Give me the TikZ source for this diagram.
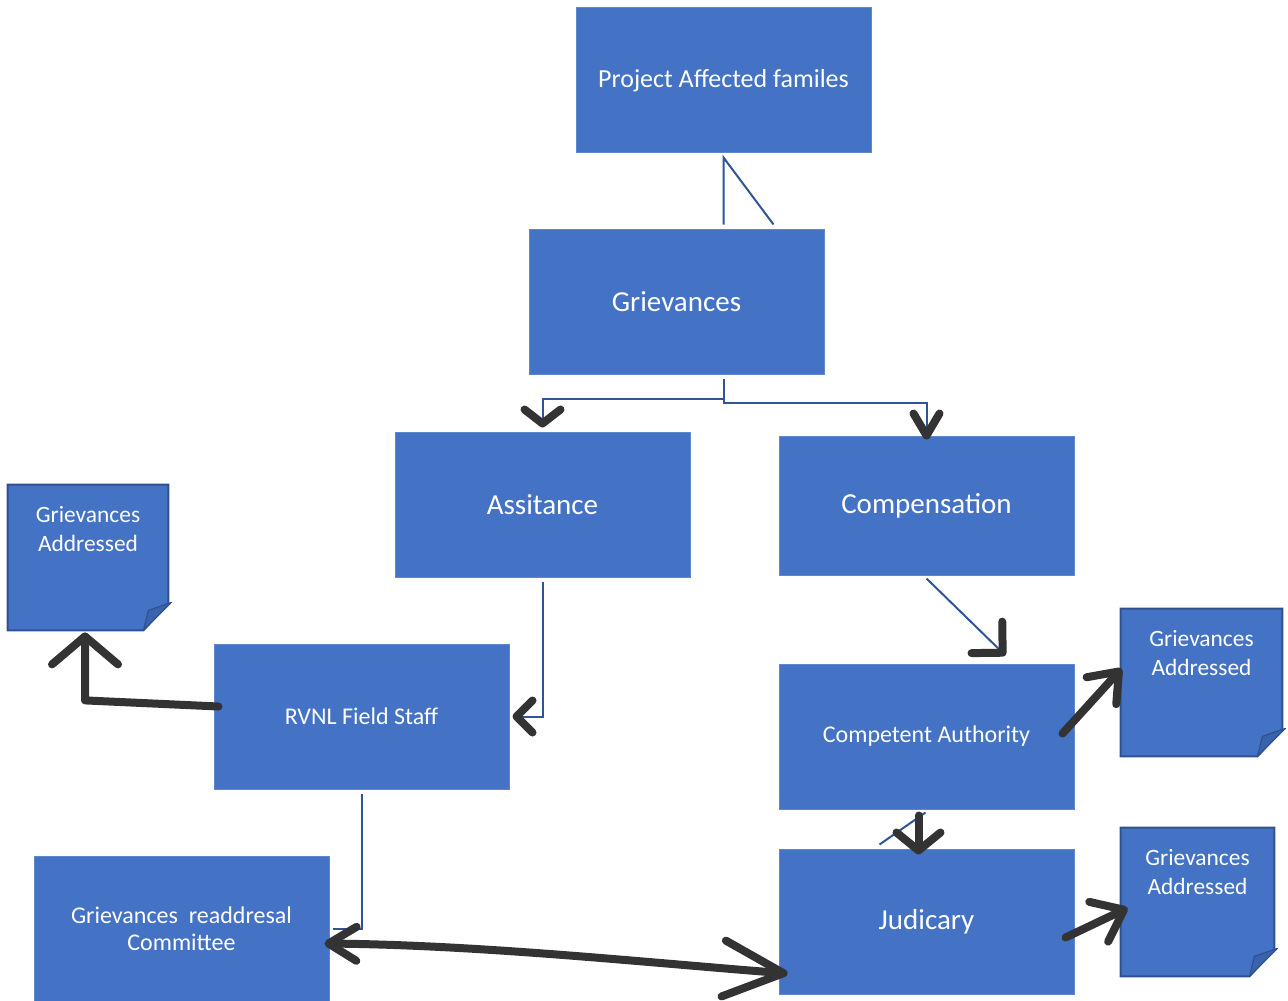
\documentclass[tikz,border=0pt]{standalone}
\usepackage{fontspec}
\setmainfont{Carlito}
\usetikzlibrary{arrows.meta,calc}
\definecolor{boxblue}{HTML}{4472C4}
\definecolor{noteline}{HTML}{2F528F}
\definecolor{flapblue}{HTML}{3A63AE}
\definecolor{linkblue}{HTML}{2F5597}
\definecolor{ink}{HTML}{333333}

\begin{document}
\begin{tikzpicture}[x=0.5pt, y=-0.5pt,
  box/.style={rectangle, fill=boxblue, draw=boxblue!85!white, line width=0.5pt, minimum width=147.5pt, minimum height=72.5pt, inner sep=0pt, text=white, align=center},
  big/.style={font=\fontsize{14.5}{17}\selectfont},
  mid/.style={font=\fontsize{13}{16}\selectfont},
  small/.style={font=\fontsize{12}{13.5}\selectfont},
  note/.style={rectangle, inner sep=0pt},
  notetext/.style={text=white, align=center, font=\fontsize{11.7}{14.5}\selectfont, inner sep=0pt, anchor=north, yshift=-10.5pt},
  link/.style={draw=linkblue, line width=1pt},
  hand/.style={draw=ink, line width=4pt, line cap=round, line join=round},
  tipbarb/.style={-{Straight Barb[color=ink, line width'=4pt, round, #1]}},
]
\useasboundingbox (0,0) rectangle (1288,1000);

% boxes
\node[box, mid] (paf) at (723.5,80.5) {Project Affected familes};
\node[box, big] (griev) at (676.5,301.5) {Grievances};
\node[box, big] (assist) at (542.5,504.5) {Assitance};
\node[box, big, minimum height=69.5pt] (comp) at (926.5,505.5) {Compensation};
\node[box, small] (rvnl) at (361.5,716.5) {RVNL Field Staff};
\node[box, small] (ca) at (926.5,736.5) {Competent Authority};
\node[box, small] (grc) at (181.5,928.5) {Grievances\ \ readdresal\\Committee};
\node[box, big] (jud) at (926.5,921.5) {Judicary};

% notes with folded corner
\node[note, minimum width=80pt, minimum height=72.5pt] (gaL) at (88,557.5) {};
\node[note, minimum width=80.5pt, minimum height=73.5pt] (gaR1) at (1201.5,682.5) {};
\node[note, minimum width=76.5pt, minimum height=74pt] (gaR2) at (1197.5,902) {};
\foreach \n in {gaL,gaR1,gaR2} {
  \filldraw[fill=boxblue, draw=noteline, line width=1pt] (\n.north west) -- (\n.north east) -- ($(\n.south east)+(0,-27)$) -- ($(\n.south east)+(-25,0)$) -- (\n.south west) -- cycle;
  \filldraw[fill=flapblue, draw=noteline, line width=0.6pt, line join=round] ($(\n.south east)+(3,-28)$) -- ($(\n.south east)+(-20,-20)$) -- ($(\n.south east)+(-25,0)$) -- cycle;
  \node[notetext] at (\n.north) {Grievances\\Addressed};
}

% blue connectors
\draw[link] ($(paf.south |- griev.north)+(0,-4)$) -- ($(paf.south)+(0,4)$) -- ($(paf.south |- griev.north)+(50,-4)$);
\draw[link, tipbarb={length=7pt, width=18pt}] ($(paf.south |- griev.south)+(0,4)$) -- ++(0,20) -| ($(assist.north)+(0,-4)$);
\draw[link, tipbarb={length=11pt, width=13pt}] ($(paf.south |- griev.south)+(0,4)$) -- ++(0,24) -| ($(comp.north)+(0,4)$);
\draw[link, tipbarb={length=8pt, width=16pt}] ($(assist.south)+(0,4)$) |- ($(rvnl.east)+(3,0)$);
\draw[link, tipbarb={length=11pt, width=22pt}] ($(comp.south)+(0,3)$) -- ($(ca.north)+(79,-8)$);
\draw[link] ($(ca.south)+(-1,3)$) -- ($(jud.north)+(-47,-4)$);
\draw[link] ($(rvnl.south)+(0,4)$) |- ($(grc.east)+(3,0)$);

% hand drawn arrows
\draw[hand, -{Straight Barb[round, length=14pt, width=33pt]}] ($(rvnl.west)+(5,-10)$) -- ($(gaL.south)+(-3,70)$) -- ($(gaL.south)+(-3,2)$);
\draw[hand, -{Straight Barb[round, length=13pt, width=20pt]}] ($(ca.east)+(-12,-3)$) -- ($(gaR1.west)+(1,-14)$);
\draw[hand, -{Straight Barb[round, length=9pt, width=22pt]}] ($(ca.south)+(-8,6)$) -- ($(jud.north)+(-8,6)$);
\draw[hand, -{Straight Barb[round, length=14pt, width=22pt]}] ($(jud.east)+(-9,16)$) -- ($(gaR2.west)+(7,6)$);
\draw[hand, {Straight Barb[round, length=14pt, width=17pt]}-{Straight Barb[round, length=30pt, width=28pt]}] ($(grc.east)+(-5,15)$) .. controls (480,945) and (640,962) .. ($(jud.west)+(9,52)$);
\end{tikzpicture}
\end{document}
